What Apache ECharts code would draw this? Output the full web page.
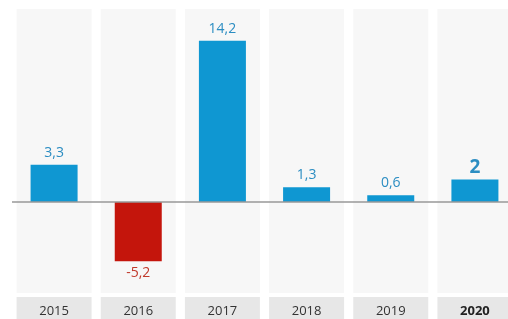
<!DOCTYPE html>
<html><head><meta charset="utf-8">
<script src="https://cdn.jsdelivr.net/npm/echarts@6/dist/echarts.min.js"></script>
<style>html,body{margin:0;padding:0;background:#fff;overflow:hidden;width:508px;height:319px}#c{width:520px;height:319px}</style>
</head><body><div id="c"></div>
<script>
var categories = ['2015','2016','2017','2018','2019','2020'];
var values = [3.3, -5.2, 14.2, 1.3, 0.6, 2];
var highlightCategory = '2020';

var chart = echarts.init(document.getElementById('c'), null, {renderer:'canvas'});
var FONT = '"Open Sans", "Noto Sans", sans-serif';
var BLUE = '#0f97d2', RED = '#c4150c';
var barData = values.map(function(v, i){
  var neg = v < 0, hl = categories[i] === highlightCategory;
  return {
    value: v,
    itemStyle: {color: neg ? RED : BLUE},
    label: {
      position: neg ? 'bottom' : 'top',
      color: neg ? '#c0392b' : '#2b8dc2',
      fontSize: hl ? 19 : 14,
      fontWeight: hl ? 'bold' : 'normal',
      distance: hl ? 2 : 5
    }
  };
});
chart.setOption({
  animation: false,
  grid: {left: 12, top: 9, width: 505, bottom: 26, containLabel: false, outerBoundsMode: 'none'},
  xAxis: [{
    type: 'category', data: categories,
    axisLine: {show: false, onZero: false}, axisTick: {show: false},
    axisLabel: {
      margin: 4, fontFamily: FONT, fontSize: 13, color: '#333',
      backgroundColor: '#e7e7e7', width: 75, height: 14, lineHeight: 14,
      padding: [7, 0, 5, 0], align: 'center',
      formatter: function(v){ return v === highlightCategory ? '{b|' + v + '}' : v; },
      rich: {b: {fontWeight: 'bold', fontFamily: FONT, fontSize: 13, color: '#222'}}
    }
  }, {
    type: 'category', data: categories, show: false
  }],
  yAxis: [{
    type: 'value', min: -8, max: 17, show: false, splitLine: {show: false}
  }, {
    type: 'value', min: 0, max: 1, show: false, splitLine: {show: false}
  }],
  series: [{
    type: 'bar', xAxisIndex: 1, yAxisIndex: 1, silent: true,
    data: categories.map(function(){ return 1; }),
    barWidth: 75, itemStyle: {color: '#f7f7f7'}, z: 1
  }, {
    type: 'bar', xAxisIndex: 0, yAxisIndex: 0, data: barData, barWidth: 47, z: 3,
    label: {show: true, fontFamily: FONT,
      formatter: function(p){ return String(p.value).replace('.', ','); }},
    markLine: {silent: true, symbol: 'none', label: {show: false},
      lineStyle: {color: '#999', width: 1.5, type: 'solid'},
      data: [{yAxis: 0}]}
  }]
});
</script></body></html>
